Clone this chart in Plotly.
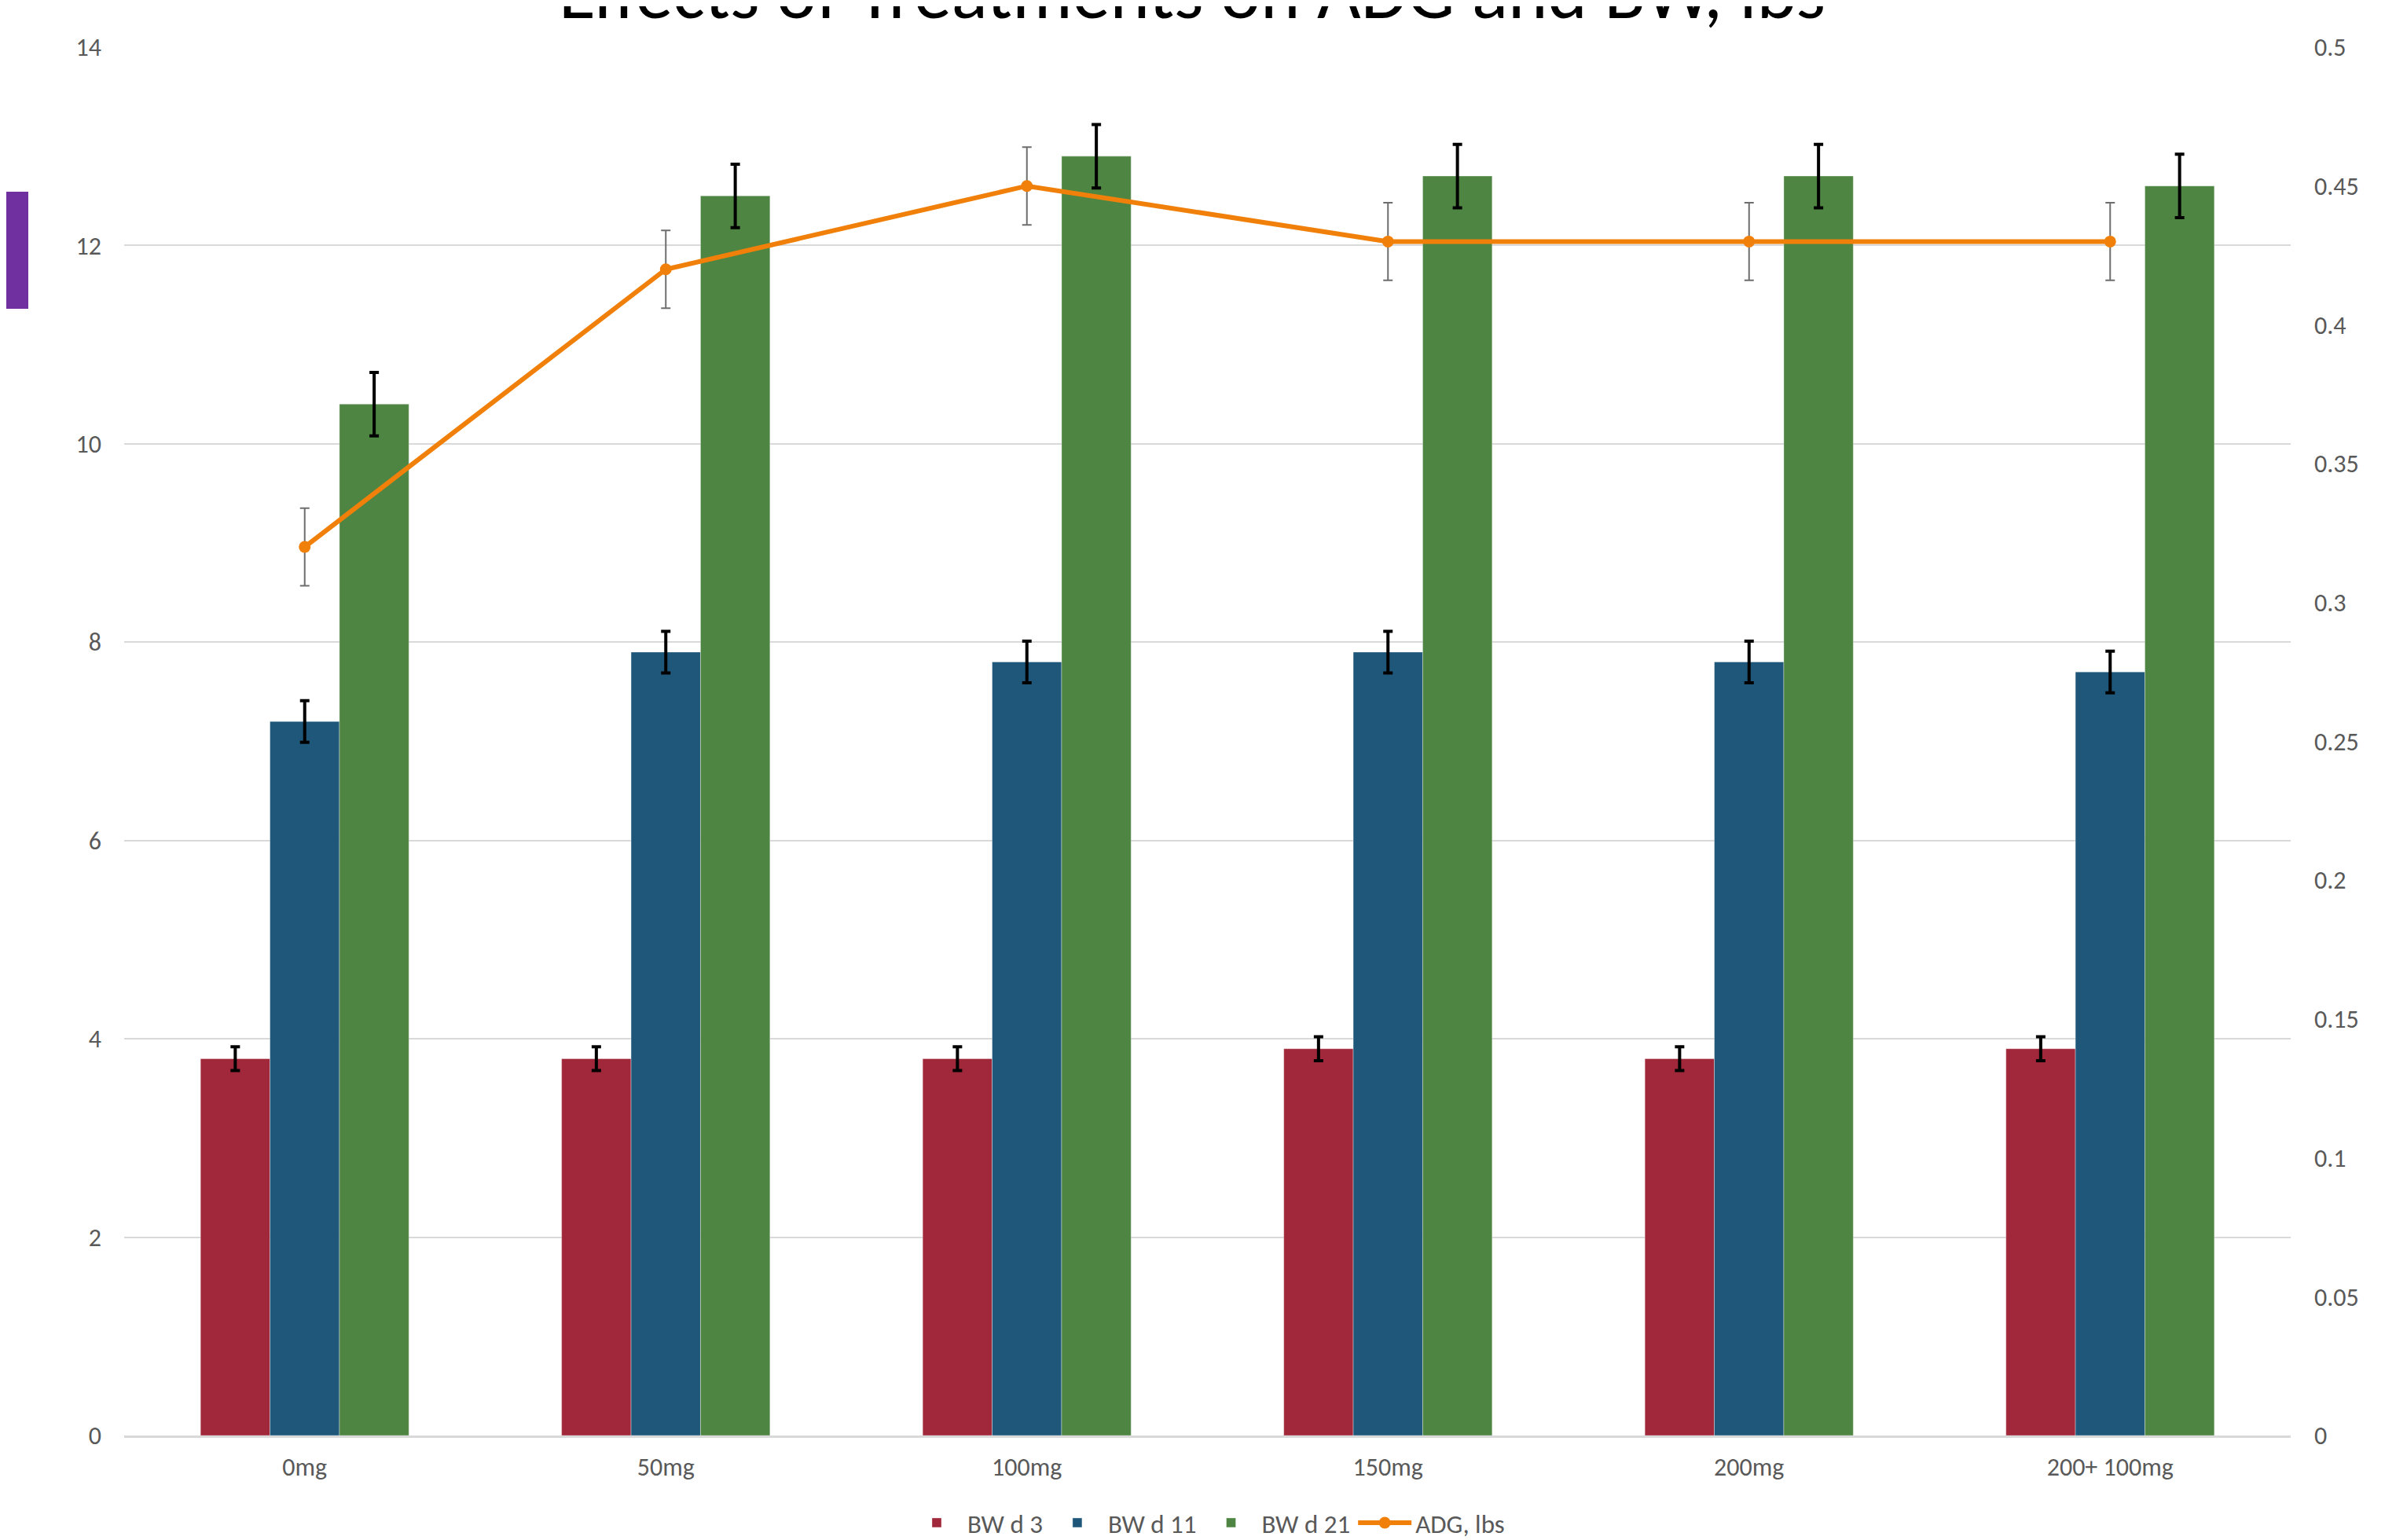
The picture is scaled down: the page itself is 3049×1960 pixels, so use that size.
import plotly.graph_objects as go

categories = ["0mg", "50mg", "100mg", "150mg", "200mg", "200+ 100mg"]
bw_d3 = [3.8, 3.8, 3.8, 3.9, 3.8, 3.9]
bw_d3_err = [0.12, 0.12, 0.12, 0.12, 0.12, 0.12]
bw_d11 = [7.2, 7.9, 7.8, 7.9, 7.8, 7.7]
bw_d11_err = [0.21, 0.21, 0.21, 0.21, 0.21, 0.21]
bw_d21 = [10.4, 12.5, 12.9, 12.7, 12.7, 12.6]
bw_d21_err = [0.32, 0.32, 0.32, 0.32, 0.32, 0.32]
adg = [0.32, 0.42, 0.45, 0.43, 0.43, 0.43]
adg_err = [0.014, 0.014, 0.014, 0.014, 0.014, 0.014]

left_ticks = [0, 2, 4, 6, 8, 10, 12, 14]
right_ticks = [0, 0.05, 0.1, 0.15, 0.2, 0.25, 0.3, 0.35, 0.4, 0.45, 0.5]

# page body has an 8px margin, so the figure is drawn 8px in from the corner
OFF = 8
W, H = 3049 - OFF, 1960 - OFF
PL, PR, PT, PB = 158 - OFF, 2915 - OFF, 60 - OFF, 1827 - OFF  # plot area in figure px
ML, MR, MT, MB = PL, W - PR, PT, H - PB
PW, PH = PR - PL, PB - PT

FONT = "Calibri, Carlito, Lato, sans-serif"
TICK_COLOR = "#595959"

fig = go.Figure()

bar_specs = [
    ("BW d 3", bw_d3, bw_d3_err, "#A0283A"),
    ("BW d 11", bw_d11, bw_d11_err, "#1E577A"),
    ("BW d 21", bw_d21, bw_d21_err, "#4E8542"),
]
for name, vals, errs, color in bar_specs:
    fig.add_trace(go.Bar(
        x=categories, y=vals, name=name,
        marker=dict(color=color, line=dict(color="rgba(255,255,255,0.35)", width=1)),
        error_y=dict(type="data", array=errs, visible=True,
                     color="#000000", thickness=4, width=6),
        yaxis="y",
    ))

fig.add_trace(go.Scatter(
    x=categories, y=adg, name="ADG, lbs", mode="lines+markers",
    line=dict(color="#F0800A", width=6),
    marker=dict(color="#F0800A", size=15),
    error_y=dict(type="data", array=adg_err, visible=True,
                 color="#6E6E6E", thickness=2, width=6),
    yaxis="y2",
))

fig.update_layout(
    width=W, height=H,
    margin=dict(l=ML, r=MR, t=MT, b=MB, pad=0, autoexpand=False),
    paper_bgcolor="white", plot_bgcolor="white",
    barmode="group", bargap=0.423, bargroupgap=0,
    font=dict(family=FONT, color=TICK_COLOR, size=32),
    showlegend=True,
    legend=dict(orientation="h", x=0.5, xanchor="center",
                yref="container", y=(H - (1938 - OFF)) / H, yanchor="middle",
                font=dict(size=33, color=TICK_COLOR, family=FONT),
                itemwidth=68, traceorder="normal", bgcolor="rgba(0,0,0,0)"),
    xaxis=dict(type="category", showgrid=False, showline=True,
               linecolor="#D9D9D9", linewidth=3, ticks="",
               tickfont=dict(size=32, color=TICK_COLOR, family=FONT),
               ticklabelstandoff=10, zeroline=False, automargin=False),
    yaxis=dict(range=[0, 14], tickvals=left_ticks, showgrid=True,
               gridcolor="#D9D9D9", gridwidth=2, zeroline=False,
               showline=False, ticks="", automargin=False,
               tickfont=dict(size=32, color=TICK_COLOR, family=FONT),
               ticklabelstandoff=28),
    yaxis2=dict(range=[0, 0.5], tickvals=right_ticks, overlaying="y",
                side="right", showgrid=False, zeroline=False,
                showline=False, ticks="", automargin=False,
                tickfont=dict(size=32, color=TICK_COLOR, family=FONT),
                ticklabelstandoff=29),
    annotations=[dict(
        text="Effects of Treatments on ADG and BW, lbs",
        xref="paper", yref="paper", x=(1517 - OFF - PL) / PW,
        y=1 + (PT + 10 + OFF) / PH, xanchor="center", yanchor="middle",
        showarrow=False, font=dict(size=96, color="#000000", family=FONT),
    )],
    shapes=[dict(
        type="rect", xref="paper", yref="paper",
        x0=(-OFF - PL) / PW, x1=(36 - OFF - PL) / PW,
        y0=1 - (393 - OFF - PT) / PH, y1=1 - (244 - OFF - PT) / PH,
        fillcolor="#7030A0", line=dict(width=0), layer="above",
    )],
)

fig.write_html("out.html")
